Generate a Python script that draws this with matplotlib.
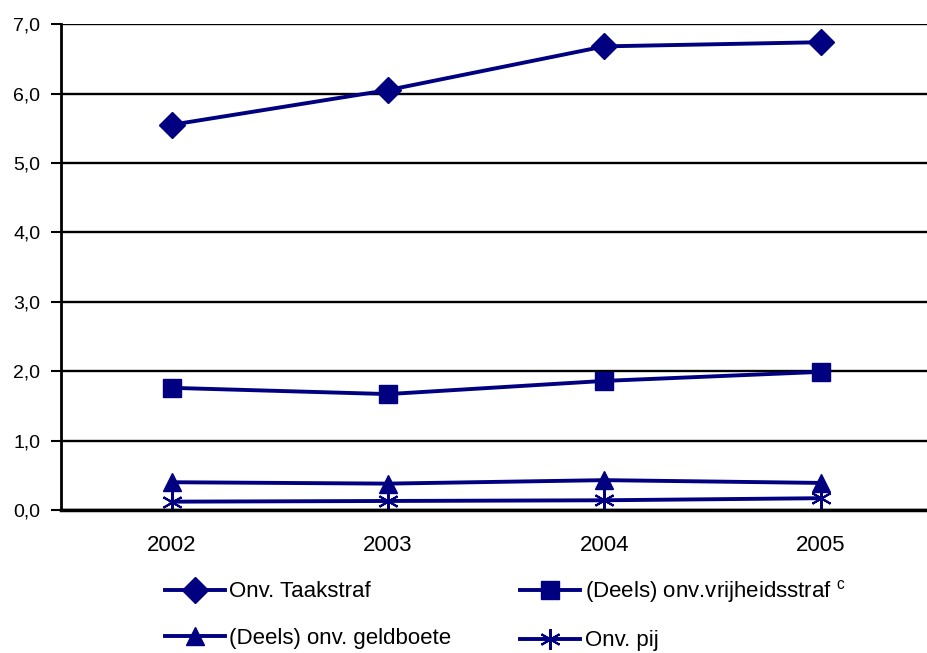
import matplotlib.pyplot as plt
import numpy as np

plt.rcParams['font.family'] = ['Liberation Sans', 'DejaVu Sans']

years = ['2002', '2003', '2004', '2005']
taakstraf = [5.55, 6.05, 6.68, 6.74]
vrijheidsstraf = [1.76, 1.67, 1.86, 1.99]
geldboete = [0.40, 0.38, 0.43, 0.39]
pij = [0.12, 0.13, 0.14, 0.17]

yticks = np.arange(0, 8, 1)
ytick_labels = [('%.1f' % v).replace('.', ',') for v in yticks]

navy = '#000080'

fig = plt.figure(figsize=(9.27, 6.53), dpi=100)
ax = fig.add_axes([0.066, 0.219, 0.936, 0.744])

x = np.arange(len(years))
l1, = ax.plot(x, taakstraf, color=navy, lw=2.8, marker='D', ms=13, label='Onv. Taakstraf')
l2, = ax.plot(x, vrijheidsstraf, color=navy, lw=2.8, marker='s', ms=13,
              label='(Deels) onv.vrijheidsstraf $^{\\mathregular{c}}$')
l3, = ax.plot(x, geldboete, color=navy, lw=2.8, marker='^', ms=13,
              label='(Deels) onv. geldboete')
l4, = ax.plot(x, pij, color=navy, lw=2.8, marker=(6, 2, 0), ms=15, mew=1.5,
              label='Onv. pij')

ax.set_xlim(-0.51, 3.5)
ax.set_ylim(0, 7)
ax.set_xticks(x)
ax.set_xticklabels(years, fontsize=16)
ax.set_yticks(yticks)
ax.set_yticklabels(ytick_labels, fontsize=14)
ax.tick_params(axis='x', length=0, pad=18)
ax.tick_params(axis='y', length=7, width=1.5, pad=8)
ax.grid(axis='y', color='black', lw=1.7)
ax.set_axisbelow(True)
for s in ['top', 'right']:
    ax.spines[s].set_visible(False)
ax.spines['left'].set_linewidth(2)
ax.spines['bottom'].set_linewidth(2.5)

# row order: Taakstraf | vrijheidsstraf, geldboete | pij
fig.legend([l1, l3, l2, l4], [l.get_label() for l in [l1, l3, l2, l4]],
           loc='upper left', bbox_to_anchor=(0.178, 0.115), ncol=2, frameon=False,
           fontsize=16, handlelength=2.7, handletextpad=0.2, columnspacing=3.1,
           labelspacing=1.15, borderpad=0, borderaxespad=0)

fig.savefig('out.png', dpi=100)
